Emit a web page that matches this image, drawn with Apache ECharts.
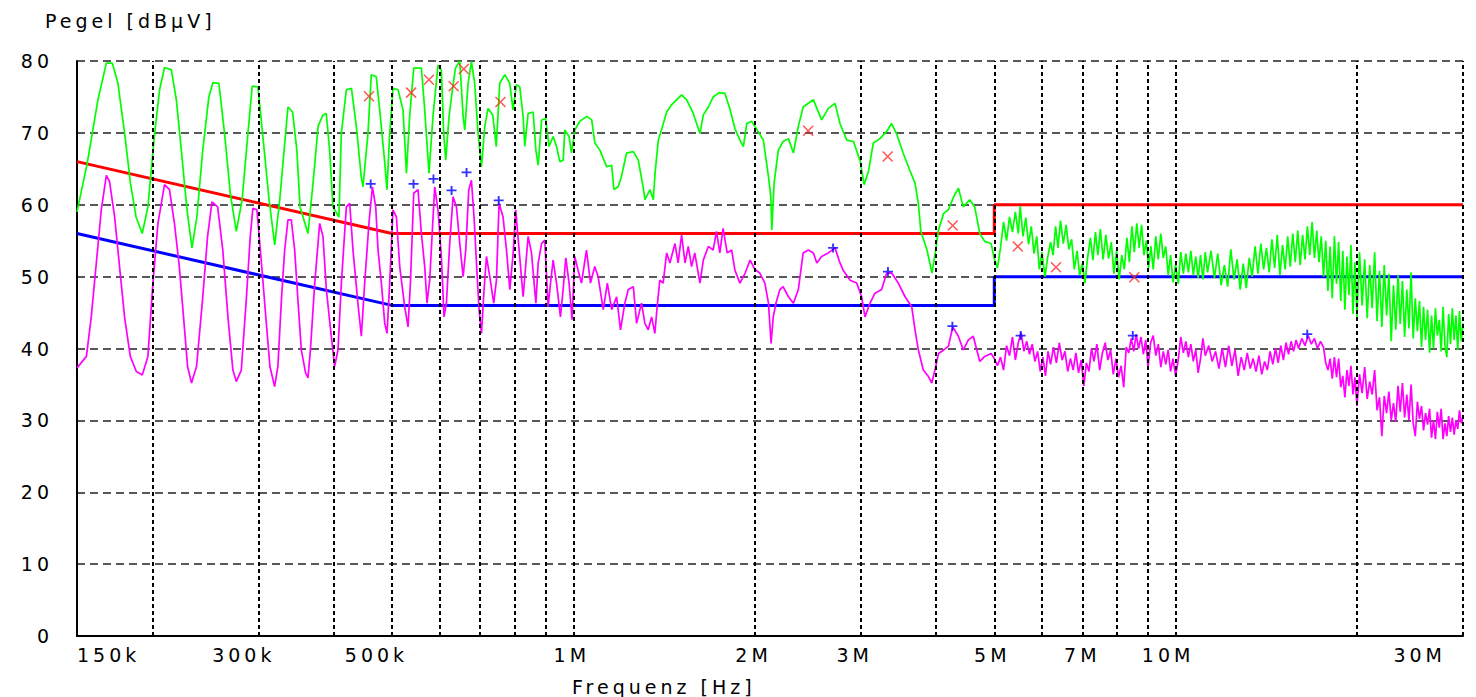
<!DOCTYPE html>
<html>
<head>
<meta charset="utf-8">
<script src="https://cdn.jsdelivr.net/npm/echarts@6/dist/echarts.min.js"></script>
<style>
  html, body { margin: 0; padding: 0; background: #fff; }
  #chart { width: 1476px; height: 697px; }
  #chart svg text { letter-spacing: 4px; }
</style>
</head>
<body>
<div id="chart"></div>
<script>
// ---- data (frequency in MHz, level in dBµV) ----
const yTitle = 'Pegel [dBµV]';
const xTitle = 'Frequenz [Hz]';

const gridFreqs = [0.2, 0.3, 0.4, 0.5, 0.6, 0.7, 0.8, 0.9, 1, 2, 3, 4, 5, 6, 7, 8, 9, 10, 20, 30];
const tickFreqs = [0.15, 0.3, 0.5, 1, 2, 3, 5, 7, 10, 30];
const tickLabels = ['150k', '300k', '500k', '1M', '2M', '3M', '5M', '7M', '10M', '30M'];

const limitQP = [[0.15, 66], [0.5, 56], [5, 56], [5, 60], [30, 60]];
const limitAV = [[0.15, 56], [0.5, 46], [5, 46], [5, 50], [30, 50]];

const peakTrace = [[0.150,59.0],[0.156,65.8],[0.1625,74.6],[0.1678,79.7],[0.1717,79.7],[0.1754,76.9],[0.180,69.9],[0.184,63.0],[0.188,58.3],[0.1925,56.0],[0.1967,59.7],[0.2018,69.9],[0.2057,76.0],[0.2096,79.1],[0.2151,78.8],[0.2193,74.6],[0.2235,67.6],[0.2284,59.3],[0.2328,54.0],[0.2372,58.3],[0.2426,67.6],[0.2483,75.0],[0.2522,77.0],[0.258,76.9],[0.2637,69.9],[0.2695,61.6],[0.2758,56.3],[0.282,60.7],[0.2883,69.9],[0.2931,76.5],[0.2995,76.4],[0.306,68.6],[0.3126,60.7],[0.3194,54.4],[0.3256,60.7],[0.3319,68.6],[0.336,73.6],[0.342,72.9],[0.3476,67.6],[0.3519,59.7],[0.3627,56.0],[0.3698,63.0],[0.377,70.9],[0.3841,72.5],[0.389,72.7],[0.394,67.6],[0.399,59.7],[0.4083,58.3],[0.412,69.9],[0.420,76.0],[0.4283,76.2],[0.4364,70.9],[0.4446,63.9],[0.4476,62.5],[0.4562,69.9],[0.462,78.1],[0.4709,77.8],[0.4771,73.2],[0.486,66.2],[0.4906,62.1],[0.4957,69.9],[0.502,76.2],[0.5118,76.0],[0.5216,73.2],[0.5285,64.4],[0.535,72.3],[0.5434,79.0],[0.5596,79.0],[0.5667,73.2],[0.5761,64.4],[0.5849,72.3],[0.5962,79.4],[0.604,78.7],[0.6094,69.9],[0.6141,66.2],[0.622,72.3],[0.630,76.0],[0.6374,79.0],[0.648,80.0],[0.6563,72.3],[0.6605,70.4],[0.669,76.9],[0.6775,79.9],[0.686,76.9],[0.695,69.9],[0.704,65.3],[0.713,70.9],[0.722,73.4],[0.735,72.5],[0.745,68.1],[0.7551,76.9],[0.7697,78.1],[0.7844,76.9],[0.7944,73.2],[0.8047,76.7],[0.815,76.4],[0.8255,72.3],[0.8308,68.1],[0.8415,72.7],[0.8578,72.9],[0.8668,67.6],[0.8745,65.5],[0.886,71.8],[0.900,72.0],[0.9117,68.1],[0.9259,69.5],[0.938,68.1],[0.950,66.0],[0.9624,66.2],[0.968,70.4],[0.984,69.5],[0.993,67.2],[1.006,70.4],[1.025,71.6],[1.053,72.3],[1.073,71.8],[1.086,68.6],[1.107,67.6],[1.136,65.3],[1.158,65.5],[1.168,62.1],[1.187,62.5],[1.202,63.9],[1.226,67.2],[1.258,67.4],[1.282,66.2],[1.306,62.5],[1.315,60.7],[1.341,62.1],[1.358,60.7],[1.367,64.4],[1.384,69.0],[1.401,70.4],[1.429,72.9],[1.456,73.9],[1.484,74.6],[1.513,75.3],[1.543,74.6],[1.582,72.7],[1.623,69.9],[1.644,72.5],[1.676,73.6],[1.707,75.0],[1.747,75.6],[1.785,75.5],[1.819,73.4],[1.855,70.6],[1.891,69.0],[1.916,68.1],[1.941,71.3],[1.979,71.6],[2.002,70.9],[2.068,69.0],[2.109,63.9],[2.128,61.1],[2.136,56.5],[2.155,63.0],[2.19,67.6],[2.23,68.8],[2.276,69.2],[2.32,67.2],[2.364,70.9],[2.408,73.6],[2.504,74.6],[2.584,71.8],[2.651,73.4],[2.72,74.1],[2.772,71.3],[2.844,69.0],[2.918,68.8],[2.992,66.2],[3.04,62.8],[3.09,64.6],[3.149,68.6],[3.23,69.2],[3.314,70.2],[3.377,71.3],[3.44,69.9],[3.529,67.2],[3.62,64.8],[3.693,63.0],[3.74,60.2],[3.776,56.3],[3.866,53.7],[3.94,50.5],[3.99,53.3],[4.04,56.5],[4.12,58.8],[4.195,59.3],[4.28,61.1],[4.36,62.3],[4.44,59.7],[4.55,60.7],[4.64,59.7],[4.73,56.0],[4.82,54.9],[4.94,54.6],
[5.00,52.5],[5.06,51.2],[5.12,54.0],[5.18,57.6],[5.24,55.0],[5.30,58.3],[5.36,56.2],[5.42,59.0],[5.48,56.0],[5.52,59.8],[5.58,55.6],[5.64,58.2],[5.70,54.5],[5.76,57.0],[5.82,53.2],[5.88,55.6],[5.94,51.0],[6.00,53.4],[6.07,50.0],[6.13,52.6],[6.20,54.8],[6.26,53.0],[6.32,57.0],[6.38,54.0],[6.44,57.8],[6.51,54.6],[6.58,57.2],[6.65,53.8],[6.72,55.2],[6.79,51.0],[6.86,53.6],[6.93,50.2],[7.00,51.8],[7.07,49.1],[7.14,52.5],[7.22,55.4],[7.29,52.3],[7.36,56.2],[7.43,53.0],[7.50,56.6],[7.58,52.4],[7.66,55.8],[7.74,52.5],[7.82,54.8],[7.90,50.4],[7.98,53.6],[8.06,49.6],[8.14,53.0],[8.22,51.0],[8.30,55.4],[8.38,52.0],[8.46,57.0],[8.54,53.4],[8.62,57.4],[8.70,54.0],[8.78,57.2],[8.86,53.0],[8.94,55.0],[9.02,51.2],[9.10,54.2],[9.18,51.0],[9.27,55.6],[9.36,52.4],[9.45,56.0],[9.54,52.6],[9.63,54.2],[9.72,50.2],[9.81,53.0],[9.90,49.2],[10.0,51.6],[10.1,49.0],[10.2,53.4],[10.3,50.4],[10.4,53.2],[10.5,50.6],[10.6,53.6],[10.7,50.2],[10.8,52.8],[10.9,49.8],[11.0,53.0],[11.1,49.6],[11.2,53.4],[11.3,50.6],[11.45,53.6],[11.6,49.8],[11.75,53.2],[11.9,48.8],[12.05,51.6],[12.2,48.6],[12.35,53.8],[12.5,49.6],[12.65,52.4],[12.8,48.2],[12.95,51.8],[13.1,48.4],[13.25,52.6],[13.4,50.0],[13.55,54.2],[13.7,50.4],[13.85,54.6],[14.0,51.0],[14.15,54.0],[14.3,50.6],[14.45,55.2],[14.6,51.2],[14.75,55.8],[14.9,50.2],[15.05,54.4],[15.2,51.0],[15.35,55.6],[15.5,51.4],[15.65,56.0],[15.8,52.0],[15.95,56.4],[16.1,51.6],[16.25,55.8],[16.4,52.4],[16.55,57.0],[16.7,53.0],[16.85,57.6],[17.0,52.6],[17.15,56.4],[17.3,52.0],[17.45,55.6],[17.6,50.0],[17.75,55.0],[17.9,48.0],[18.05,54.2],[18.2,47.0],[18.35,55.6],[18.5,49.0],[18.65,54.8],[18.8,46.6],[18.95,53.6],[19.1,45.4],[19.25,52.8],[19.4,47.4],[19.55,54.4],[19.7,44.8],[19.85,52.0],[20.0,44.4],[20.2,53.4],[20.4,46.0],[20.6,52.4],[20.8,44.2],[21.0,51.6],[21.2,45.6],[21.4,53.4],[21.6,43.8],[21.8,50.8],[22.0,43.0],[22.2,51.6],[22.4,44.6],[22.6,50.4],[22.8,41.0],[23.0,48.8],[23.2,42.6],[23.4,50.2],[23.6,43.4],[23.8,49.4],[24.0,41.6],[24.2,48.2],[24.4,42.8],[24.6,50.6],[24.8,41.4],[25.0,47.0],[25.2,42.4],[25.4,46.6],[25.6,40.2],[25.8,45.8],[26.0,41.2],[26.2,45.4],[26.4,39.4],[26.6,44.6],[26.8,40.0],[27.0,45.6],[27.2,41.8],[27.4,44.0],[27.6,39.6],[27.8,45.8],[28.0,40.4],[28.2,38.8],[28.4,44.8],[28.6,40.6],[28.8,45.6],[29.0,41.2],[29.2,44.6],[29.4,39.8],[29.6,45.2],[29.8,41.0],[30.0,43.5]];

const avgTrace = [[0.150,37.3],[0.1555,38.9],[0.1584,44.4],[0.1615,51.9],[0.1646,59.3],[0.1678,64.1],[0.1699,63.2],[0.1732,58.3],[0.1765,51.4],[0.1799,44.4],[0.1839,38.9],[0.1882,36.8],[0.1925,36.3],[0.1967,38.9],[0.2005,49.1],[0.2044,57.4],[0.2096,62.8],[0.2136,62.1],[0.2177,57.4],[0.2218,51.4],[0.2261,43.0],[0.2289,37.5],[0.2324,35.2],[0.2369,37.5],[0.2424,46.8],[0.2471,55.6],[0.2513,60.4],[0.2568,59.7],[0.2619,53.7],[0.2671,44.4],[0.2722,37.0],[0.2758,35.4],[0.2811,37.0],[0.2865,46.8],[0.2909,55.6],[0.2938,59.5],[0.2984,59.3],[0.3036,51.9],[0.3087,44.4],[0.3136,37.5],[0.3193,34.7],[0.3233,37.5],[0.3277,46.8],[0.3318,53.7],[0.336,57.9],[0.3403,57.9],[0.3447,53.7],[0.349,46.8],[0.3536,39.8],[0.3594,36.6],[0.3627,35.9],[0.3661,39.8],[0.3722,49.1],[0.3793,57.4],[0.3841,55.6],[0.3891,48.2],[0.395,43.0],[0.4016,37.5],[0.4068,39.8],[0.4121,49.1],[0.42,59.7],[0.4254,60.2],[0.4308,53.7],[0.439,46.3],[0.4448,41.7],[0.4505,49.1],[0.4579,57.4],[0.464,62.5],[0.4699,59.7],[0.4741,53.7],[0.4802,49.1],[0.4864,43.5],[0.4907,42.1],[0.4957,49.1],[0.502,59.3],[0.5086,58.3],[0.5151,51.4],[0.525,45.8],[0.5317,43.0],[0.5366,49.1],[0.5434,61.6],[0.5524,62.1],[0.5596,56.0],[0.5667,51.4],[0.5717,46.3],[0.5776,49.5],[0.5836,56.5],[0.5888,62.5],[0.5962,59.3],[0.604,52.8],[0.6101,44.4],[0.6157,46.3],[0.6235,54.6],[0.6316,61.1],[0.6398,59.7],[0.648,54.6],[0.6563,50.0],[0.663,53.7],[0.6707,62.1],[0.6775,63.4],[0.6843,58.3],[0.6907,51.9],[0.6976,45.4],[0.704,42.1],[0.7111,48.2],[0.7176,52.8],[0.7268,50.0],[0.7378,46.3],[0.7455,49.5],[0.753,60.2],[0.7646,58.3],[0.7747,53.7],[0.7846,48.2],[0.7948,53.3],[0.8025,59.3],[0.813,53.7],[0.8256,47.2],[0.8415,55.6],[0.8524,53.3],[0.8668,46.3],[0.8745,51.9],[0.886,54.6],[0.8967,55.1],[0.9083,45.8],[0.9167,49.1],[0.9259,52.3],[0.938,49.1],[0.9522,44.4],[0.9619,48.2],[0.9719,52.6],[0.9841,49.1],[0.9954,44.0],[1.0058,52.8],[1.0185,50.9],[1.032,49.1],[1.0518,53.7],[1.068,49.1],[1.0856,51.4],[1.0996,50.0],[1.1215,45.4],[1.139,49.1],[1.1583,45.4],[1.1803,47.2],[1.1978,42.6],[1.218,46.3],[1.234,48.2],[1.258,48.6],[1.274,43.5],[1.298,46.3],[1.315,43.5],[1.332,42.6],[1.349,44.4],[1.366,42.1],[1.378,45.8],[1.392,49.5],[1.41,49.1],[1.429,53.3],[1.447,51.9],[1.475,54.6],[1.493,51.9],[1.513,55.8],[1.533,51.9],[1.552,54.2],[1.572,51.4],[1.591,53.3],[1.623,49.1],[1.644,52.3],[1.676,54.2],[1.707,53.7],[1.729,56.3],[1.751,53.3],[1.773,56.7],[1.801,53.3],[1.832,53.7],[1.855,50.9],[1.891,49.1],[1.929,50.5],[1.966,52.3],[2.002,51.0],[2.04,50.5],[2.08,49.1],[2.109,46.3],[2.13,40.7],[2.148,44.4],[2.17,46.3],[2.203,48.2],[2.23,48.6],[2.276,47.2],[2.32,46.3],[2.364,48.2],[2.408,53.3],[2.456,53.7],[2.504,53.3],[2.537,51.9],[2.584,52.8],[2.651,53.3],[2.72,54.0],[2.772,51.9],[2.806,50.9],[2.881,49.5],[2.955,49.1],[3.011,47.2],[3.05,44.4],[3.109,46.3],[3.169,47.7],[3.25,48.2],[3.314,50.5],[3.377,50.5],[3.464,49.1],[3.555,47.2],[3.647,45.8],[3.693,42.6],[3.74,39.8],[3.812,37.0],[3.887,36.1],[3.937,35.2],[3.985,37.0],[4.04,39.3],[4.12,39.8],[4.195,40.3],[4.266,43.0],[4.358,41.7],[4.442,39.8],[4.528,41.2],[4.614,41.7],[4.73,38.2],[4.82,38.9],[4.94,39.3],
[5.00,38.6],[5.06,37.6],[5.12,38.8],[5.18,37.0],[5.24,40.4],[5.30,39.0],[5.36,41.6],[5.42,38.4],[5.48,40.8],[5.54,42.2],[5.60,39.6],[5.66,41.0],[5.72,39.2],[5.78,40.6],[5.84,38.2],[5.90,39.6],[5.96,36.8],[6.02,38.8],[6.08,36.2],[6.14,39.6],[6.20,37.8],[6.27,40.2],[6.34,38.0],[6.41,40.8],[6.48,38.4],[6.55,39.6],[6.62,36.8],[6.69,38.6],[6.76,37.0],[6.83,39.4],[6.90,36.6],[6.97,38.4],[7.04,34.8],[7.11,38.0],[7.18,36.8],[7.25,40.0],[7.32,38.2],[7.40,40.6],[7.48,37.0],[7.56,39.4],[7.64,40.8],[7.72,38.4],[7.80,39.8],[7.88,36.4],[7.96,38.6],[8.04,36.0],[8.12,37.6],[8.20,34.6],[8.28,40.2],[8.36,39.4],[8.44,41.4],[8.52,39.6],[8.60,42.0],[8.68,40.0],[8.76,41.6],[8.84,39.2],[8.92,41.2],[9.00,37.4],[9.09,40.8],[9.18,41.8],[9.27,39.0],[9.36,40.6],[9.45,37.4],[9.54,39.6],[9.63,37.8],[9.72,39.8],[9.81,36.8],[9.90,38.6],[10.0,36.2],[10.1,38.4],[10.2,41.6],[10.3,39.4],[10.4,41.0],[10.5,38.8],[10.6,40.6],[10.7,38.2],[10.8,39.8],[10.9,36.6],[11.0,38.6],[11.1,41.4],[11.2,39.0],[11.35,40.4],[11.5,38.2],[11.65,39.6],[11.8,37.2],[11.95,40.0],[12.1,37.4],[12.25,40.4],[12.4,37.6],[12.55,39.8],[12.7,36.2],[12.85,38.8],[13.0,37.0],[13.15,39.4],[13.3,37.2],[13.45,38.6],[13.6,36.8],[13.75,39.0],[13.9,36.4],[14.05,38.2],[14.2,37.0],[14.35,39.6],[14.5,37.8],[14.65,40.0],[14.8,38.0],[14.95,40.4],[15.1,38.4],[15.25,40.8],[15.4,39.2],[15.55,41.0],[15.7,39.6],[15.85,41.2],[16.0,40.0],[16.2,41.4],[16.4,40.4],[16.6,41.8],[16.8,40.6],[17.0,41.4],[17.2,40.0],[17.4,41.0],[17.6,40.2],[17.75,38.0],[17.9,37.0],[18.05,38.6],[18.2,35.8],[18.35,38.8],[18.5,36.0],[18.65,38.6],[18.8,34.6],[18.95,36.2],[19.1,33.2],[19.25,37.0],[19.4,34.8],[19.55,37.6],[19.7,33.6],[19.85,36.0],[20.0,32.0],[20.2,36.4],[20.4,33.8],[20.6,37.4],[20.8,33.0],[21.0,35.4],[21.2,33.6],[21.4,37.0],[21.6,31.4],[21.8,33.2],[22.0,27.8],[22.2,33.4],[22.4,31.0],[22.6,34.0],[22.8,30.0],[23.0,32.4],[23.2,29.8],[23.4,34.8],[23.6,31.2],[23.8,35.2],[24.0,30.4],[24.2,33.6],[24.4,30.0],[24.6,35.0],[24.8,29.6],[25.0,27.8],[25.2,32.6],[25.4,30.2],[25.6,32.0],[25.8,28.6],[26.0,31.0],[26.2,29.4],[26.4,31.6],[26.6,27.6],[26.8,30.0],[27.0,27.4],[27.2,31.2],[27.4,29.0],[27.6,31.6],[27.8,27.4],[28.0,29.6],[28.2,27.8],[28.4,30.6],[28.6,28.4],[28.8,30.4],[29.0,28.0],[29.2,30.0],[29.4,28.8],[29.6,31.4],[29.8,29.6],[30.0,30.5]];

const qpMarkers = [[0.458,75.1],[0.538,75.6],[0.576,77.4],[0.633,76.5],[0.658,78.9],[0.757,74.3],[2.455,70.3],[3.326,66.7],[4.265,57.1],[5.47,54.2],[6.33,51.3],[8.54,49.9]];
const avMarkers = [[0.461,62.9],[0.543,62.9],[0.586,63.6],[0.628,62.0],[0.665,64.5],[0.752,60.6],[2.70,54.0],[3.33,50.7],[4.26,43.1],[5.53,41.8],[8.49,41.8],[16.54,42.0]];

// ---- chart ----
const FONT = 'DejaVu Sans';
const textStyle = { fontFamily: FONT, fontSize: 19, fontWeight: 'normal', color: '#000' };

const labelPad = { '150k': 0, '300k': 29, '500k': 31, '1M': 3, '2M': 2, '3M': 12, '5M': 4, '7M': 0, '10M': 15, '30M': 17 };
const labelAlign = { '150k': 'left', '30M': 'right' };

const gridLineData = gridFreqs.map(f => ({ xAxis: f }));
const tickLabelData = tickFreqs.map((f, i) => {
  const t = tickLabels[i];
  return {
    xAxis: f,
    label: {
      show: true,
      position: 'start',
      distance: 9,
      formatter: t,
      align: labelAlign[t] || 'center',
      padding: [0, labelPad[t], 0, 0],
      fontFamily: FONT, fontSize: 19, color: '#000'
    }
  };
});

const chart = echarts.init(document.getElementById('chart'), null, { renderer: 'svg', width: 1476, height: 697 });

const option = {
  animation: false,
  backgroundColor: '#ffffff',
  title: [
    { text: yTitle, left: 40, top: 6, textStyle: textStyle },
    { text: xTitle, left: 567, top: 672, textStyle: textStyle }
  ],
  grid: { left: 77, right: 13, top: 61, bottom: 61, containLabel: false },
  xAxis: {
    type: 'log', logBase: 10, min: 0.15, max: 30,
    axisLine: { show: true, onZero: false, lineStyle: { color: '#000', width: 2 } },
    axisTick: { show: false },
    axisLabel: { show: false },
    splitLine: { show: false },
    minorTick: { show: false },
    minorSplitLine: { show: false }
  },
  yAxis: {
    type: 'value', min: 0, max: 80, interval: 10,
    axisLine: { show: true, onZero: false, lineStyle: { color: '#000', width: 2 } },
    axisTick: { show: false },
    axisLabel: { fontFamily: FONT, fontSize: 19, color: '#000', margin: 24 },
    splitLine: { show: true, lineStyle: { color: '#222', width: 1.5, type: [8, 5] } }
  },
  series: [
    {
      name: 'grid', type: 'line', data: [], z: 1, silent: true,
      markLine: {
        silent: true, symbol: ['none', 'none'], animation: false,
        lineStyle: { color: '#000', width: 2, type: [4, 3] },
        label: { show: false },
        emphasis: { disabled: true },
        data: gridLineData
      }
    },
    {
      name: 'ticks', type: 'line', data: [], z: 1, silent: true,
      markLine: {
        silent: true, symbol: ['none', 'none'], animation: false,
        lineStyle: { color: 'rgba(0,0,0,0)', width: 1, type: 'solid' },
        emphasis: { disabled: true },
        data: tickLabelData
      }
    },
    {
      name: 'QP-Grenzwert', type: 'line', data: limitQP, z: 2,
      showSymbol: false, symbol: 'none',
      lineStyle: { color: '#ff0000', width: 3 }
    },
    {
      name: 'AV-Grenzwert', type: 'line', data: limitAV, z: 2,
      showSymbol: false, symbol: 'none',
      lineStyle: { color: '#0000ff', width: 3 }
    },
    {
      name: 'Peak', type: 'line', data: peakTrace, z: 3,
      showSymbol: false, symbol: 'none',
      lineStyle: { color: '#00ff00', width: 1.7 }
    },
    {
      name: 'Average', type: 'line', data: avgTrace, z: 3,
      showSymbol: false, symbol: 'none',
      lineStyle: { color: '#ff00ff', width: 1.7 }
    },
    {
      name: 'QP', type: 'scatter', data: qpMarkers, z: 5,
      symbol: 'path://M0,0L10,10M10,0L0,10', symbolSize: 10,
      itemStyle: { color: 'none', borderColor: '#ff2a2a', borderWidth: 1.5 }
    },
    {
      name: 'AV', type: 'scatter', data: avMarkers, z: 5,
      symbol: 'path://M0,5L10,5M5,0L5,10', symbolSize: [10, 9],
      itemStyle: { color: 'none', borderColor: '#0000ff', borderWidth: 1.8 }
    }
  ]
};
chart.setOption(option);
</script>
</body>
</html>
